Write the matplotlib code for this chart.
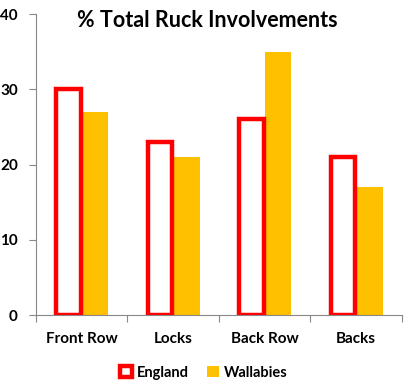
import matplotlib.pyplot as plt
import numpy as np

categories = ['Front Row', 'Locks', 'Back Row', 'Backs']
england = [30, 23, 26, 21]
wallabies = [27, 21, 35, 17]
y_ticks = [0, 10, 20, 30, 40]

plt.rcParams['font.family'] = ['Lato', 'DejaVu Sans']
plt.rcParams['font.weight'] = 'bold'

fig = plt.figure(figsize=(4.08, 3.89), dpi=100)
ax = fig.add_axes([0.088, 0.19, 0.897, 0.774])

x = np.arange(len(categories))
w = 0.29
ax.bar(x - w / 2, england, w * 0.92, facecolor='white', edgecolor='#ff0000',
       linewidth=3.2, label='England', zorder=3)
ax.bar(x + w / 2 + 0.005, wallabies, w * 0.98, color='#ffc000',
       label='Wallabies', zorder=2)

ax.set_xlim(-0.5, len(categories) - 0.5)
ax.set_ylim(0, 40)
ax.set_yticks(y_ticks)
ax.set_xticks(np.arange(len(categories) + 1) - 0.5, minor=False)
ax.set_xticklabels([])
ax.set_xticks(x, minor=True)
ax.set_xticklabels(categories, minor=True, fontsize=11, fontweight='bold')
ax.tick_params(axis='x', which='minor', length=0, pad=12)
ax.tick_params(axis='x', which='major', length=5, color='#888888', direction='out')
ax.tick_params(axis='y', length=5, color='#888888', labelsize=11, pad=8)

for side in ['top', 'right']:
    ax.spines[side].set_visible(False)
for side in ['left', 'bottom']:
    ax.spines[side].set_color('#888888')

fig.text(0.508, 0.948, '% Total Ruck Involvements', fontsize=15.5,
         fontweight='bold', ha='center', va='center')

fig.legend(loc='lower center', bbox_to_anchor=(0.5, -0.01), ncol=2, frameon=False,
           fontsize=10.5, handlelength=0.8, handleheight=0.8, columnspacing=1.2,
           handletextpad=0.4)

fig.savefig('out.png', dpi=100)
